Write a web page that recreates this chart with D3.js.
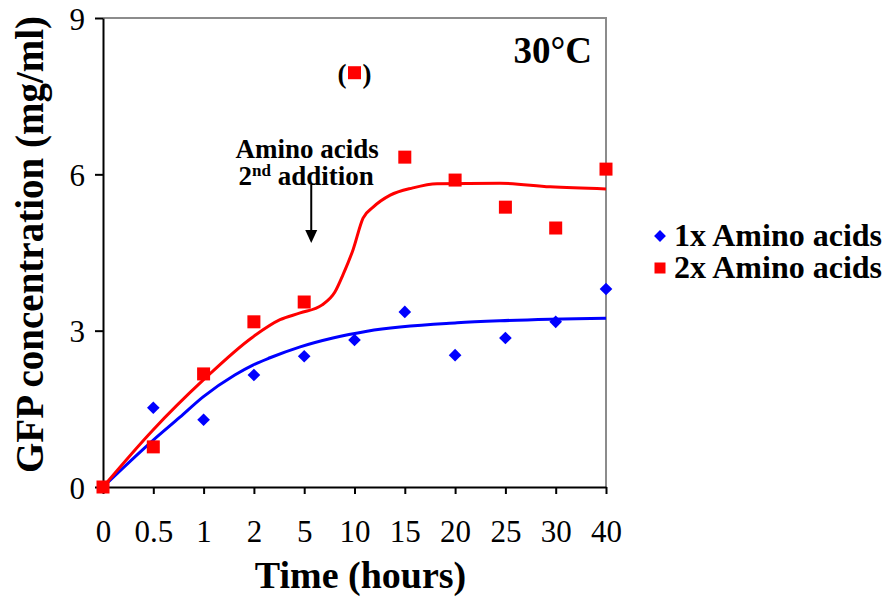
<!DOCTYPE html>
<html>
<head>
<meta charset="utf-8">
<script src="https://cdn.jsdelivr.net/npm/d3@7"></script>
<style>
  html, body { margin: 0; padding: 0; background: #fff; }
  svg { display: block; font-family: 'Liberation Serif', 'Times New Roman', serif; }
</style>
</head>
<body>
<div id="chart"></div>
<script>
// sampling times (hours), shown as evenly spaced categories
const timeLabels = ['0', '0.5', '1', '2', '5', '10', '15', '20', '25', '30', '40']
// GFP concentration (mg/ml)
const aa1x = [0, 1.52, 1.29, 2.15, 2.51, 2.82, 3.36, 2.53, 2.86, 3.17, 3.80]
const aa2x = [0, 0.77, 2.17, 3.17, 3.55, 7.95, 6.33, 5.89, 5.37, 4.97, 6.10]
// index of the bracketed (excluded) point in aa2x
const outlierIndex = 5
// fitted trend lines: [category position, mg/ml]
const fit1x = [[0, 0], [1, 0.90], [1.53, 1.34], [1.99, 1.73], [2.62, 2.15], [2.98, 2.34],
  [3.32, 2.48], [3.92, 2.69], [4.57, 2.86], [5.25, 2.99], [7.04, 3.15], [7.89, 3.19], [10, 3.24]]
const fit2x = [[0, 0], [0.99, 1.09], [1.99, 2.05], [2.98, 2.88], [3.52, 3.21], [3.92, 3.34],
  [4.35, 3.49], [4.61, 3.74], [4.77, 4.07], [4.97, 4.55], [5.17, 5.16], [5.37, 5.37],
  [5.71, 5.60], [6.16, 5.74], [6.64, 5.82], [7.89, 5.83], [8.89, 5.76], [10, 5.72]]
const yTicks = [0, 3, 6, 9]
const seriesNames = ['1x Amino acids', '2x Amino acids']

const width = 887
const height = 598
const margin = { top: 18, right: 281, bottom: 111, left: 103 }
const innerW = width - margin.left - margin.right
const innerH = height - margin.top - margin.bottom

const blue = '#0000ff'
const red = '#ff0000'

const svg = d3.select('#chart').append('svg')
  .attr('width', width)
  .attr('height', height)

const g = svg.append('g').attr('transform', `translate(${margin.left},${margin.top})`)

const x = d3.scaleLinear().domain([0, timeLabels.length - 1]).range([0, innerW])
const y = d3.scaleLinear().domain([0, 9]).range([innerH, 0])

// frame: top and right in grey
g.append('path')
  .attr('d', `M0,0H${innerW}V${innerH}`)
  .attr('fill', 'none')
  .attr('stroke', '#8c8c8c')
  .attr('stroke-width', 2)

// axes
const xAxis = g.append('g')
  .attr('transform', `translate(0,${innerH})`)
  .call(d3.axisBottom(x)
    .tickValues(d3.range(timeLabels.length))
    .tickFormat(i => timeLabels[i])
    .tickSizeInner(7).tickSizeOuter(0).tickPadding(26))
const yAxis = g.append('g')
  .call(d3.axisLeft(y).tickValues(yTicks).tickSizeInner(8).tickSizeOuter(0).tickPadding(10))

;[xAxis, yAxis].forEach(a => {
  a.attr('font-family', null).attr('font-size', null)
  a.select('.domain').attr('stroke', '#000').attr('stroke-width', 2)
  a.selectAll('.tick line').attr('stroke', '#000').attr('stroke-width', 2)
  a.selectAll('.tick text')
    .attr('fill', '#000')
    .style('font-size', '31px')
})
xAxis.selectAll('.tick text').attr('dy', '0.71em')
yAxis.selectAll('.tick text').attr('dy', '0.36em')

// fitted lines
const line = d3.line().x(d => x(d[0])).y(d => y(d[1])).curve(d3.curveMonotoneX)
g.append('path').datum(fit1x)
  .attr('d', line).attr('fill', 'none').attr('stroke', blue).attr('stroke-width', 3)
g.append('path').datum(fit2x)
  .attr('d', line).attr('fill', 'none').attr('stroke', red).attr('stroke-width', 3)

// markers
const diamond = d3.symbol().type(d3.symbolSquare).size(80)
g.selectAll('.pt1').data(aa1x).join('path')
  .attr('class', 'pt1')
  .attr('d', diamond)
  .attr('transform', (d, i) => `translate(${x(i)},${y(d)}) rotate(45)`)
  .attr('fill', blue)

const sq = 13
g.selectAll('.pt2').data(aa2x).join('rect')
  .attr('class', 'pt2')
  .attr('x', (d, i) => x(i) - sq / 2)
  .attr('y', d => y(d) - sq / 2)
  .attr('width', sq).attr('height', sq)
  .attr('fill', red)

// brackets round excluded point
const ox = x(outlierIndex)
const oy = y(aa2x[outlierIndex])
g.append('text').attr('x', ox - 8).attr('y', oy + 10)
  .attr('text-anchor', 'end').style('font-size', '27px').style('font-weight', 'bold').text('(')
g.append('text').attr('x', ox + 8).attr('y', oy + 10)
  .attr('text-anchor', 'start').style('font-size', '27px').style('font-weight', 'bold').text(')')

// temperature label
g.append('text')
  .attr('x', innerW - 14).attr('y', 45)
  .attr('text-anchor', 'end')
  .style('font-size', '37px').style('font-weight', 'bold')
  .text('30°C')

// annotation with arrow
const ann = g.append('g').style('font-size', '27px').style('font-weight', 'bold')
ann.append('text').attr('x', x(4.06)).attr('y', 140).attr('text-anchor', 'middle').text('Amino acids')
const t2 = ann.append('text').attr('x', x(4.04)).attr('y', 167).attr('text-anchor', 'middle')
t2.append('tspan').text('2')
t2.append('tspan').attr('dy', -9).style('font-size', '17px').text('nd')
t2.append('tspan').attr('dy', 9).text(' addition')

const ax = x(4.14)
g.append('line')
  .attr('x1', ax).attr('x2', ax).attr('y1', 167).attr('y2', 214)
  .attr('stroke', '#000').attr('stroke-width', 2)
g.append('path')
  .attr('d', `M${ax - 6},${212}L${ax + 6},${212}L${ax},${225}Z`)
  .attr('fill', '#000')

// axis titles
svg.append('text')
  .attr('x', margin.left + innerW / 2 + 6).attr('y', 588)
  .attr('text-anchor', 'middle')
  .style('font-size', '38px').style('font-weight', 'bold')
  .text('Time (hours)')
svg.append('text')
  .attr('transform', `translate(43,${margin.top + innerH / 2 - 8}) rotate(-90)`)
  .attr('text-anchor', 'middle')
  .style('font-size', '39px').style('font-weight', 'bold')
  .text('GFP concentration (mg/ml)')

// legend
const legend = svg.append('g').attr('transform', 'translate(660,236)')
  .style('font-size', '32px').style('font-weight', 'bold')
seriesNames.forEach((name, i) => {
  const row = legend.append('g').attr('transform', `translate(0,${i * 32})`)
  if (i === 0) {
    row.append('path').attr('d', d3.symbol().type(d3.symbolSquare).size(70))
      .attr('transform', 'rotate(45)').attr('fill', blue)
  } else {
    row.append('rect').attr('x', -5.5).attr('y', -5.5).attr('width', 11).attr('height', 11).attr('fill', red)
  }
  row.append('text').attr('x', 14).attr('y', 10).text(name)
})
</script>
</body>
</html>
